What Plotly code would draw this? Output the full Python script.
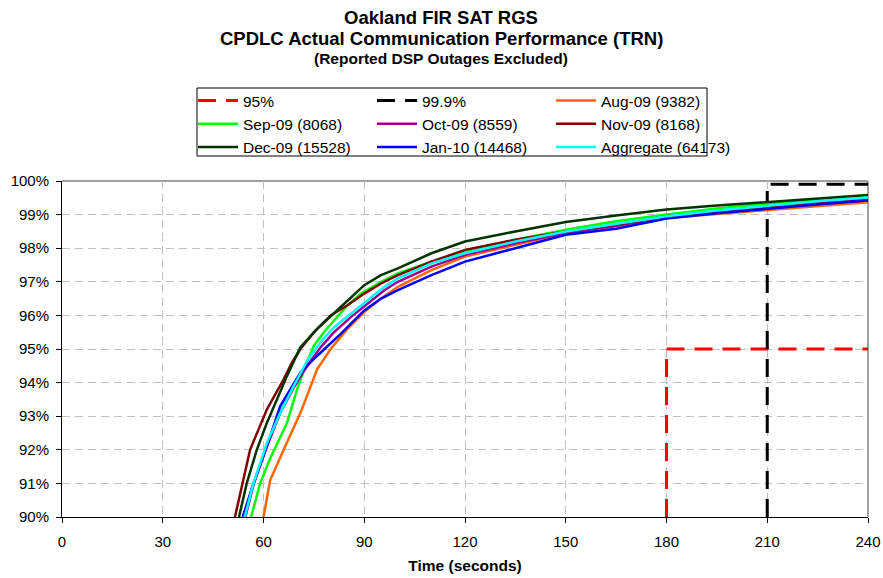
import plotly.graph_objects as go

# ---- data ----
aug_t = [60, 62, 66, 71, 76, 80, 85, 90, 95, 100, 110, 120, 135, 150, 165, 180, 195, 210, 225, 240]
aug_p = [90, 91.1, 92.0, 93.1, 94.4, 95.0, 95.6, 96.1, 96.5, 96.85, 97.35, 97.75, 98.1, 98.45, 98.65, 98.9, 99.02, 99.14, 99.26, 99.37]

sep_t = [56.3, 59, 62, 65, 67, 70, 72.5, 75, 78, 81, 85, 89, 95, 100, 110, 120, 135, 150, 165, 180, 195, 210, 225, 240]
sep_p = [90, 91.0, 91.75, 92.4, 92.8, 93.8, 94.5, 95.1, 95.5, 95.85, 96.3, 96.65, 97.0, 97.25, 97.6, 97.9, 98.25, 98.55, 98.8, 99.0, 99.18, 99.33, 99.43, 99.52]

oct_t = [54.6, 57, 61, 65, 69, 73, 77, 81, 86, 91, 96, 100, 110, 120, 135, 150, 165, 180, 195, 210, 225, 240]
oct_p = [90, 90.95, 92.1, 93.1, 93.85, 94.5, 95.05, 95.5, 95.95, 96.35, 96.75, 97.0, 97.45, 97.8, 98.15, 98.45, 98.67, 98.92, 99.08, 99.22, 99.36, 99.47]

nov_t = [51.5, 54, 56, 58.5, 61, 63.5, 66, 68.5, 71, 75, 80, 85, 90, 95, 100, 110, 120, 135, 150, 165, 180, 195, 210, 225, 240]
nov_p = [90, 91.1, 92.0, 92.6, 93.2, 93.65, 94.1, 94.6, 95.0, 95.5, 96.0, 96.3, 96.65, 96.95, 97.2, 97.6, 97.95, 98.25, 98.5, 98.7, 98.95, 99.1, 99.22, 99.32, 99.42]

dec_t = [52.7, 55, 58, 61, 64, 67, 71, 76, 83, 90, 95, 100, 110, 120, 135, 150, 165, 180, 195, 210, 225, 240]
dec_p = [90, 91.0, 92.0, 92.8, 93.5, 94.2, 95.05, 95.6, 96.25, 96.9, 97.2, 97.4, 97.85, 98.2, 98.5, 98.78, 98.97, 99.15, 99.27, 99.38, 99.48, 99.58]

jan_t = [53.8, 57, 61, 65, 71, 76, 83, 90, 95, 100, 110, 120, 135, 150, 165, 180, 195, 210, 225, 240]
jan_p = [90, 91.0, 92.1, 93.3, 94.3, 94.8, 95.45, 96.15, 96.5, 96.75, 97.2, 97.6, 98.0, 98.4, 98.58, 98.88, 99.04, 99.16, 99.3, 99.43]

agg_t = [54.4, 57, 61, 65, 69, 73, 77, 81, 86, 91, 96, 100, 110, 120, 135, 150, 165, 180, 195, 210, 225, 240]
agg_p = [90, 91.0, 92.2, 93.1, 93.9, 94.65, 95.2, 95.65, 96.05, 96.45, 96.85, 97.1, 97.55, 97.85, 98.2, 98.5, 98.72, 98.95, 99.12, 99.26, 99.4, 99.51]

req95_t = [180, 180, 240]
req95_p = [90, 95, 95]
req999_t = [210, 210, 240]
req999_p = [90, 99.9, 99.9]

x_ticks = [0, 30, 60, 90, 120, 150, 180, 210, 240]
y_ticks = [90, 91, 92, 93, 94, 95, 96, 97, 98, 99, 100]

# ---- figure ----
W, H = 883, 578
L, R, T, B = 62, 15, 181, 61
pw, ph = W - L - R, H - T - B


def px2x(px):
    return (px - L) / pw


def py2y(py):
    return (H - B - py) / ph


series = [
    ("95%", req95_t, req95_p, "#FF0000", "dash", "legend"),
    ("99.9%", req999_t, req999_p, "#000000", "dash", "legend2"),
    ("Aug-09 (9382)", aug_t, aug_p, "#FF6600", "solid", "legend3"),
    ("Sep-09 (8068)", sep_t, sep_p, "#00FF00", "solid", "legend"),
    ("Oct-09 (8559)", oct_t, oct_p, "#990099", "solid", "legend2"),
    ("Nov-09 (8168)", nov_t, nov_p, "#800000", "solid", "legend3"),
    ("Dec-09 (15528)", dec_t, dec_p, "#003300", "solid", "legend"),
    ("Jan-10 (14468)", jan_t, jan_p, "#0000FF", "solid", "legend2"),
    ("Aggregate (64173)", agg_t, agg_p, "#00FFFF", "solid", "legend3"),
]

fig = go.Figure()
for i, (name, t, p, col, dash, lg) in enumerate(series):
    fig.add_trace(go.Scatter(
        x=t, y=p, name=name, mode="lines",
        line=dict(color=col, width=3 if dash != "solid" else 2.5,
                  dash="18px,10px" if dash != "solid" else "solid"),
        legend=lg, legendgroup=name, showlegend=True,
        hoverinfo="skip",
    ))

legfont = dict(family="Arial, Liberation Sans, sans-serif", size=15.5, color="black")
common_leg = dict(font=legfont, bgcolor="rgba(0,0,0,0)", borderwidth=0,
                  orientation="v", xanchor="left", yanchor="top",
                  tracegroupgap=0, itemwidth=40)
fig.update_layout(
    legend=dict(x=px2x(193), y=py2y(84), **common_leg),
    legend2=dict(x=px2x(372), y=py2y(84), **common_leg),
    legend3=dict(x=px2x(551), y=py2y(84), **common_leg),
)

axfont = dict(family="Arial, Liberation Sans, sans-serif", size=15, color="black")
fig.update_layout(
    width=W, height=H,
    margin=dict(l=L, r=R, t=T, b=B, autoexpand=False),
    paper_bgcolor="white", plot_bgcolor="white",
    font=dict(family="Arial, Liberation Sans, sans-serif", color="black"),
    showlegend=True,
    xaxis=dict(range=[0, 240], tickvals=x_ticks, ticktext=[str(v) for v in x_ticks],
               showgrid=True, gridcolor="#C0C0C0", griddash="8px,5px", gridwidth=1,
               showline=True, linecolor="black", linewidth=1,
               ticks="outside", ticklen=5, tickcolor="black",
               tickfont=axfont, zeroline=False, ticklabelstandoff=6,
               title=dict(text="<b>Time (seconds)</b>",
                          font=dict(family="Arial, Liberation Sans, sans-serif", size=15.5, color="black"),
                          standoff=11)),
    yaxis=dict(range=[90, 100], tickvals=y_ticks, ticktext=[f"{v}%" for v in y_ticks],
               showgrid=True, gridcolor="#C0C0C0", griddash="8px,5px", gridwidth=1,
               showline=True, linecolor="black", linewidth=1,
               ticks="outside", ticklen=5, tickcolor="black",
               tickfont=axfont, zeroline=False, ticklabelstandoff=4),
)

# grey top / right frame and legend box
fig.add_shape(type="line", xref="paper", yref="paper", x0=0, x1=1, y0=1, y1=1,
              line=dict(color="#A0A0A0", width=2), layer="below")
fig.add_shape(type="line", xref="paper", yref="paper", x0=1, x1=1, y0=0, y1=1,
              line=dict(color="#A0A0A0", width=2), layer="below")
fig.add_shape(type="rect", xref="paper", yref="paper",
              x0=px2x(197), x1=px2x(707), y0=py2y(156), y1=py2y(88),
              line=dict(color="black", width=1), fillcolor="rgba(0,0,0,0)")

tfont = "Arial, Liberation Sans, sans-serif"
cx = px2x(441)
fig.add_annotation(text="<b>Oakland FIR SAT RGS</b>", xref="paper", yref="paper",
                   x=cx, y=py2y(17), showarrow=False, xanchor="center", yanchor="middle",
                   font=dict(family=tfont, size=18.5, color="black"))
fig.add_annotation(text="<b>CPDLC Actual Communication Performance (TRN)</b>", xref="paper", yref="paper",
                   x=cx, y=py2y(38), showarrow=False, xanchor="center", yanchor="middle",
                   font=dict(family=tfont, size=18.5, color="black"))
fig.add_annotation(text="<b>(Reported DSP Outages Excluded)</b>", xref="paper", yref="paper",
                   x=cx, y=py2y(59), showarrow=False, xanchor="center", yanchor="middle",
                   font=dict(family=tfont, size=15.5, color="black"))

fig.write_html("out.html", config={"displayModeBar": False},
               post_script="document.body.style.margin='0';document.body.style.padding='0';")
